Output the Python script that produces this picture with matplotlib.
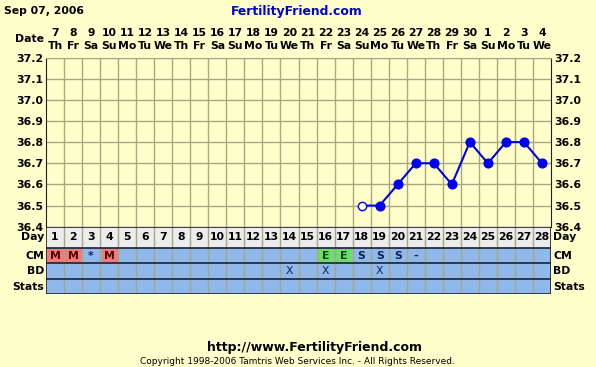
import numpy as np
import matplotlib.pyplot as plt

# chart values
dates = [7, 8, 9, 10, 11, 12, 13, 14, 15, 16, 17, 18, 19, 20, 21, 22, 23, 24,
         25, 26, 27, 28, 29, 30, 1, 2, 3, 4]
weekdays = ["Th", "Fr", "Sa", "Su", "Mo", "Tu", "We"] * 4
cycle_days = list(range(1, 29))
temp_days = [18, 19, 20, 21, 22, 23, 24, 25, 26, 27, 28]
temps = [36.5, 36.5, 36.6, 36.7, 36.7, 36.6, 36.8, 36.7, 36.8, 36.8, 36.7]
open_days = [18]
temp_ticks = [37.2, 37.1, 37.0, 36.9, 36.8, 36.7, 36.6, 36.5, 36.4]
cm_days = [1, 2, 3, 4, 16, 17, 18, 19, 20, 21]
cm_codes = ["M", "M", "*", "M", "E", "E", "S", "S", "S", "-"]
bd_days = [14, 16, 19]
row_names = ["Day", "CM", "BD", "Stats"]

W, H = 596, 367
BG = "#ffffcc"
GRID = "#a8a880"
BLUE_ROW = "#8fb9ea"
font = dict(family="DejaVu Sans", fontweight="bold", fontsize=7.8)

fig = plt.figure(figsize=(W / 100, H / 100), dpi=100, facecolor=BG)

x0, x1 = 46, 551
ytop, ybot = 57.5, 226.7
ax = fig.add_axes([x0 / W, 1 - ybot / H, (x1 - x0) / W, (ybot - ytop) / H])
ax.set_facecolor(BG)
ax.set_xlim(0.5, 28.5)
ax.set_ylim(36.4, 37.2)
for v in np.arange(1.5, 28, 1):
    ax.axvline(v, color=GRID, lw=1, zorder=1)
for t in temp_ticks:
    ax.axhline(t, color=GRID, lw=1, zorder=1)
ax.set_xticks([])
ax.set_yticks(temp_ticks)
ax.set_yticklabels([f"{t:.1f}" for t in temp_ticks], **font)
ax.tick_params(axis="y", length=0, pad=2, labelright=True, labelleft=True)
for s in ["left", "right", "bottom"]:
    ax.spines[s].set_color("#202020")
ax.spines["top"].set_color(GRID)

ax.plot(temp_days, temps, color="#0000dd", lw=1.5, zorder=3)
solid = [(d, t) for d, t in zip(temp_days, temps) if d not in open_days]
ax.plot([d for d, _ in solid], [t for _, t in solid], "o", color="#0000ee",
        ms=6.3, zorder=4)
for d, t in zip(temp_days, temps):
    if d in open_days:
        ax.plot(d, t, "o", mfc="white", mec="#0000ee", ms=6, mew=1, zorder=4)

# top date header
for d, dt, wd in zip(cycle_days, dates, weekdays):
    xf = (x0 + (d - 0.5) * (x1 - x0) / 28) / W
    fig.text(xf, 1 - 33 / H, str(dt), ha="center", va="center", **font)
    fig.text(xf, 1 - 46 / H, wd, ha="center", va="center", **font)
fig.text(44 / W, 1 - 39 / H, "Date", ha="right", va="center", **font)
fig.text(4 / W, 1 - 11 / H, "Sep 07, 2006", ha="left", va="center", **font)
fig.text(297 / W, 1 - 11 / H, "FertilityFriend.com", ha="center", va="center",
         color="#0000cc", family="DejaVu Sans", fontweight="bold", fontsize=8.9)

# lower table
row_edges = [0, 21, 36.5, 52, 67.5]
tb = fig.add_axes([x0 / W, 1 - (ybot + 67.5) / H, (x1 - x0) / W, 67.5 / H])
tb.set_xlim(0.5, 28.5)
tb.set_ylim(67.5, 0)
tb.axis("off")
tb.axhspan(0, 21, color="#ececec", zorder=0)
tb.axhspan(21, 67.5, color=BLUE_ROW, zorder=0)
for v in np.arange(1.5, 28, 1):
    tb.axvline(v, color=GRID, lw=1, zorder=2)
for e in row_edges:
    tb.axhline(e, color="#202030", lw=1.2, zorder=3)
tb.axvline(0.5, color="#202020", lw=1.2, zorder=3)
tb.axvline(28.5, color="#202020", lw=1.2, zorder=3)

for d in cycle_days:
    tb.text(d, 10.8, str(d), ha="center", va="center", **font)
cm_style = {"M": ("#ee7c7c", "#550000"), "E": ("#6ddc6d", "#004400"),
            "S": (None, "#10205a"), "*": (None, "#10205a"), "-": (None, "#10205a")}
for d, c in zip(cm_days, cm_codes):
    fc, tc = cm_style[c]
    if fc:
        tb.fill_between([d - 0.42, d + 0.42], 22.5, 35, color=fc, zorder=1)
    tb.text(d, 28.9, c, ha="center", va="center", color=tc, **font)
for d in bd_days:
    tb.text(d, 44.3, "X", ha="center", va="center", color="#10205a",
            family="DejaVu Sans", fontsize=7.8)

mids = [10.8, 28.9, 44.3, 59.8]
for name, m in zip(row_names, mids):
    yf = 1 - (ybot + m) / H
    fig.text(44 / W, yf, name, ha="right", va="center", **font)
    fig.text(553 / W, yf, name, ha="left", va="center", **font)

fig.text(315 / W, 1 - 347 / H, "http://www.FertilityFriend.com", ha="center",
         va="center", family="DejaVu Sans", fontweight="bold", fontsize=9)
fig.text(297 / W, 1 - 362 / H,
         "Copyright 1998-2006 Tamtris Web Services Inc. - All Rights Reserved.",
         ha="center", va="center", family="DejaVu Sans", fontsize=6.5)

fig.savefig("out.png", dpi=100, facecolor=BG)
